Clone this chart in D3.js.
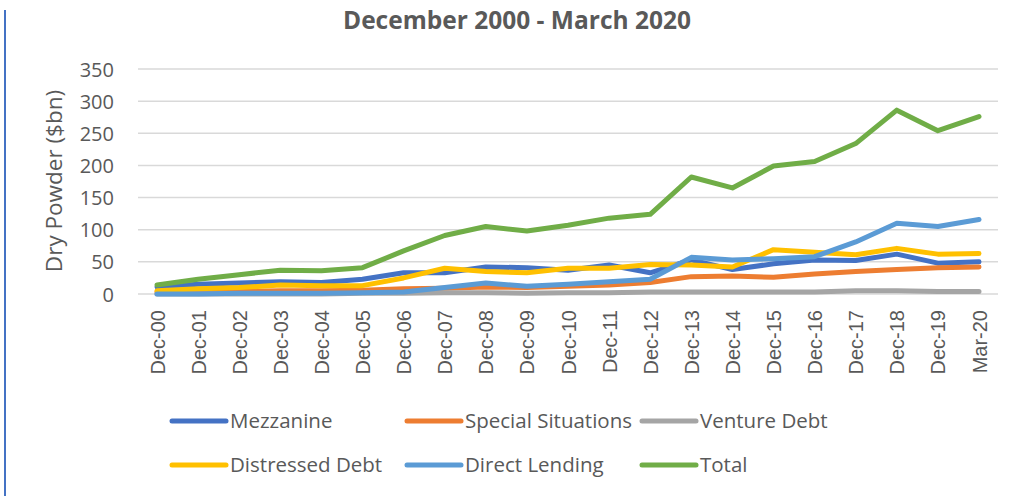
<!DOCTYPE html>
<html>
<head>
<meta charset="utf-8">
<script src="https://cdn.jsdelivr.net/npm/d3@7"></script>
<style>
  body { margin: 0; background: #fff; }
  text { font-family: "Open Sans", sans-serif; fill: #595959; }
</style>
</head>
<body>
<div id="chart"></div>
<script>
// Chart Data
const categories = ["Dec-00","Dec-01","Dec-02","Dec-03","Dec-04","Dec-05","Dec-06","Dec-07","Dec-08","Dec-09","Dec-10",
                    "Dec-11","Dec-12","Dec-13","Dec-14","Dec-15","Dec-16","Dec-17","Dec-18","Dec-19","Mar-20"];
const mezzanine  = [11,15,17,19,18,23,33,33,42,41,37,45,33,53,38,47,53,52,62,48,50];
const special    = [3,3,4,5,5,6,8,9,11,10,12,14,18,27,28,26,31,35,38,41,42];
const venture    = [0,0,0,0,0,1,1,2,2,1,2,2,3,3,3,3,3,5,5,4,4];
const distressed = [5,8,10,14,13,13,25,40,35,33,40,40,46,45,42,69,65,61,71,62,63];
const direct     = [0,0,1,1,1,2,3,10,17,12,15,19,23,57,53,55,58,81,110,105,116];
const total      = [14,23,30,37,36,41,67,91,105,98,107,118,124,182,165,199,206,234,286,254,276];
const yTicks     = [0,50,100,150,200,250,300,350];

const seriesNames  = ["Mezzanine","Special Situations","Venture Debt","Distressed Debt","Direct Lending","Total"];
const seriesValues = [mezzanine, special, venture, distressed, direct, total];
const seriesColors = ["#4472C4","#ED7D31","#A5A5A5","#FFC000","#5B9BD5","#70AD47"];

// Dimensions
let w = 1016, h = 496;
let svg = d3.select("#chart").append("svg").attr("width", w).attr("height", h);

// Left Border
svg.append("line").attr("x1", 5).attr("x2", 5).attr("y1", 10).attr("y2", h)
  .attr("stroke", "#4472C4").attr("stroke-width", 2);

// Scales
let xScale = d3.scalePoint().domain(categories).range([157, 979]);
let yScale = d3.scaleLinear().domain([0, 350]).range([294, 69]);

// Title
svg.append("text").text("December 2000 - March 2020")
  .attr("x", 517).attr("y", 29).attr("text-anchor", "middle")
  .style("font-size", "24.5px").style("font-weight", "bold");

// Gridlines
svg.selectAll(".grid").data(yTicks).enter().append("line")
  .attr("x1", 138).attr("x2", 998)
  .attr("y1", d => yScale(d)).attr("y2", d => yScale(d))
  .attr("stroke", "#d9d9d9").attr("stroke-width", 1.5);

// Y Axis
let yAxis = d3.axisLeft(yScale).tickValues(yTicks).tickSize(0).tickPadding(0);
let gy = svg.append("g").attr("transform", "translate(114,0)").call(yAxis);
gy.select(".domain").remove();
gy.selectAll("text").style("font-size", "20px").attr("fill", "#595959").attr("dy", "0.35em");

// X Axis
let xAxis = d3.axisBottom(xScale).tickSize(0);
let gx = svg.append("g").attr("transform", "translate(0,294)").call(xAxis);
gx.select(".domain").remove();
gx.selectAll("text")
  .attr("transform", "rotate(-90)")
  .attr("x", -16).attr("y", 0).attr("dy", "0.35em")
  .attr("text-anchor", "end")
  .attr("fill", "#595959")
  .style("font-family", "'Liberation Sans', Arial, sans-serif")
  .style("font-size", "20px");

// Y Axis Label
svg.append("text").text("Dry Powder ($bn)")
  .attr("transform", "translate(62,181) rotate(-90)")
  .attr("text-anchor", "middle").style("font-size", "22.5px");

// Lines
let line = d3.line().x((d, i) => xScale(categories[i])).y(d => yScale(d));
svg.selectAll(".series").data(seriesValues).enter().append("path")
  .attr("d", d => line(d))
  .attr("fill", "none")
  .attr("stroke", (d, i) => seriesColors[i])
  .attr("stroke-width", 5)
  .attr("stroke-linejoin", "round")
  .attr("stroke-linecap", "round");

// Legend
let legendX = [172, 407, 642], legendY = [421, 465];
seriesNames.forEach((name, i) => {
  let lx = legendX[i % 3], ly = legendY[Math.floor(i / 3)];
  svg.append("line").attr("x1", lx).attr("x2", lx + 54).attr("y1", ly).attr("y2", ly)
    .attr("stroke", seriesColors[i]).attr("stroke-width", 5).attr("stroke-linecap", "round");
  svg.append("text").text(name).attr("x", lx + 58).attr("y", ly).attr("dy", "0.36em")
    .style("font-size", "20.5px");
});
</script>
</body>
</html>
